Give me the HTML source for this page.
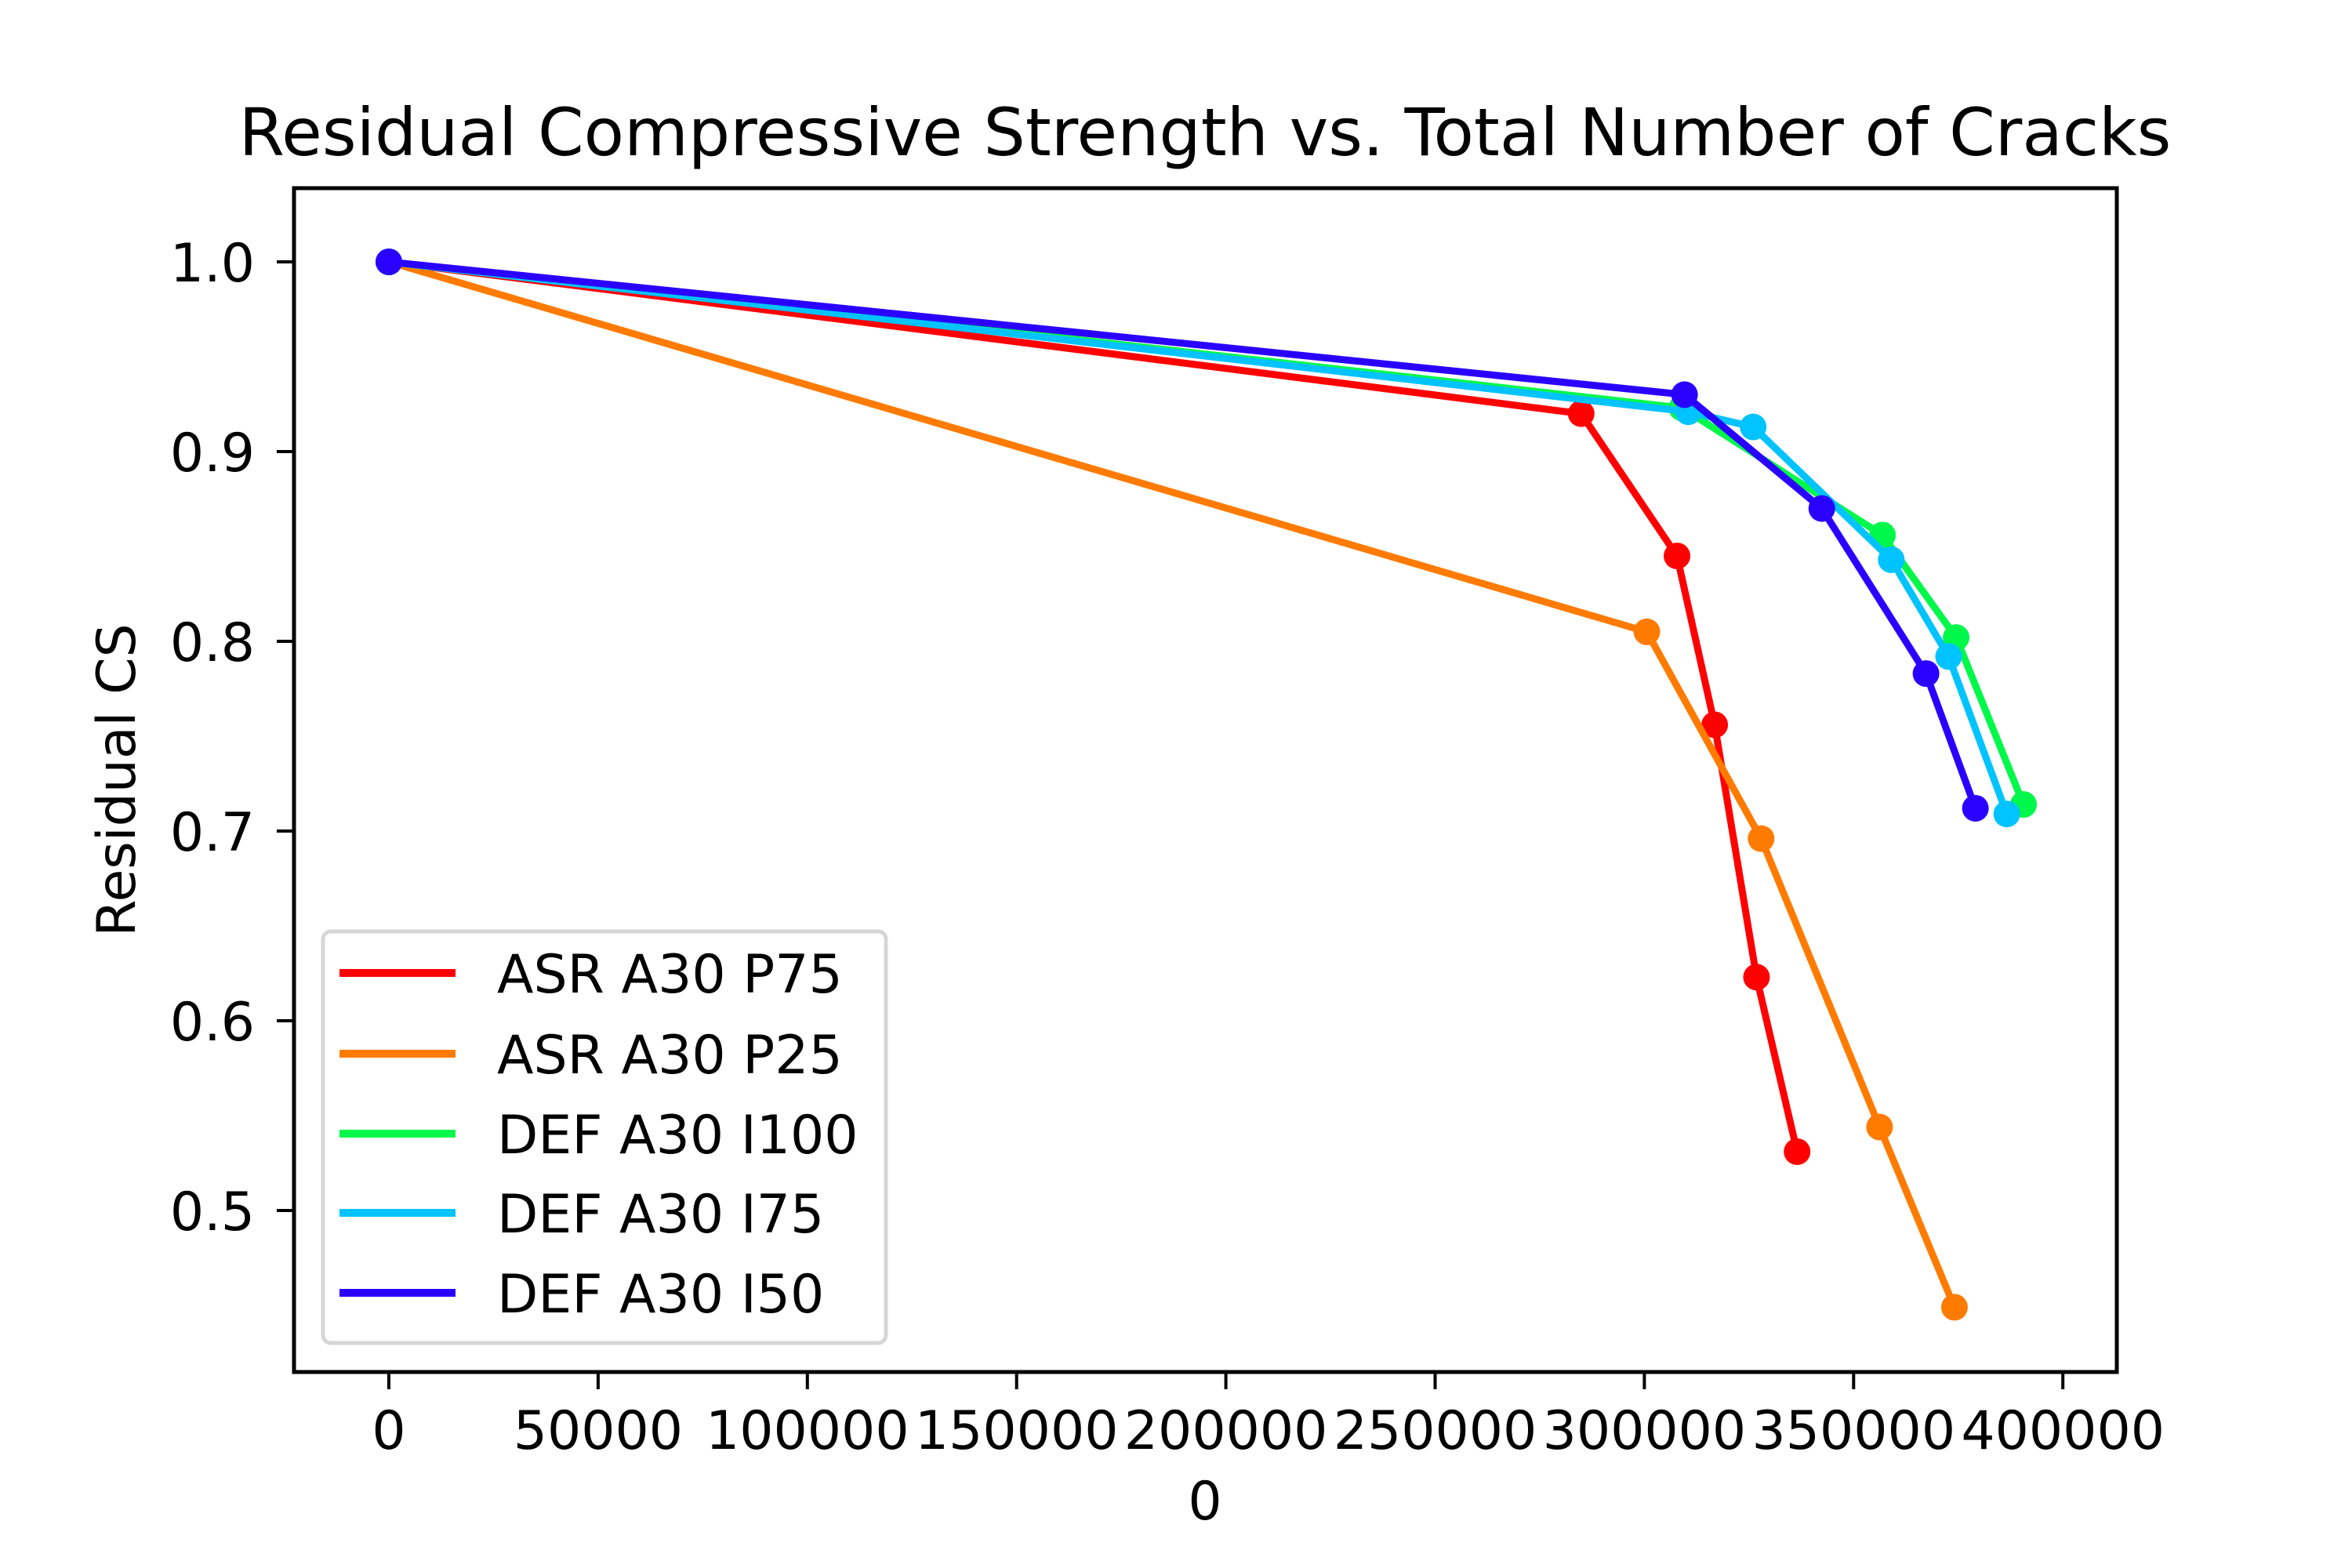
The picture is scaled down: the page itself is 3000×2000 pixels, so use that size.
<!DOCTYPE html>
<html><head><meta charset="utf-8"><style>
html,body{margin:0;padding:0;background:#fff;}
svg{display:block;font-family:"DejaVu Sans","Liberation Sans",sans-serif;}
</style></head><body>
<svg id="chart" width="3000" height="2000" viewBox="0 0 3000 2000" xmlns="http://www.w3.org/2000/svg">
<rect width="3000" height="2000" fill="#fff"/>
<text x="1537" y="198" font-size="84" text-anchor="middle">Residual Compressive Strength vs. Total Number of Cracks</text>
<g id="marks"></g>
<g id="axes"></g>
<text x="1537" y="1938" font-size="68" text-anchor="middle">0</text>
<text transform="translate(172,995) rotate(-90)" font-size="68" text-anchor="middle">Residual CS</text>
<g id="legend"></g>
</svg>
<script>
const seriesNames = ["ASR A30 P75","ASR A30 P25","DEF A30 I100","DEF A30 I75","DEF A30 I50"];
const seriesColors = ["#ff0000","#ff7b00","#00f84a","#00c3ff","#2a00ff"];
const xP75 = [0,284900,307800,316800,326800,336500];
const yP75 = [1.0,0.920,0.845,0.756,0.623,0.531];
const xP25 = [0,300600,327900,356200,374100];
const yP25 = [1.0,0.805,0.696,0.544,0.449];
const xI100 = [0,309000,356900,374500,390600];
const yI100 = [1.0,0.923,0.856,0.802,0.714];
const xI75 = [0,310500,326000,359000,372700,386600];
const yI75 = [1.0,0.921,0.913,0.843,0.792,0.709];
const xI50 = [0,309600,342400,367300,379100];
const yI50 = [1.0,0.930,0.870,0.783,0.712];
const xTicks = [0,50000,100000,150000,200000,250000,300000,350000,400000];
const yTicks = [0.5,0.6,0.7,0.8,0.9,1.0];
const yTickLabels = ["0.5","0.6","0.7","0.8","0.9","1.0"];

const L=375,R=2700,T=240,B=1750;
const X0=496, XPER=266.9/50000;
const Y1=334, YPER=2420;
function sx(v){return X0+v*XPER;}
function sy(v){return Y1+(1-v)*YPER;}
const NS="http://www.w3.org/2000/svg";
function mk(tag,attrs,parent){const e=document.createElementNS(NS,tag);for(const k in attrs)e.setAttribute(k,attrs[k]);parent.appendChild(e);return e;}

const marks=document.getElementById('marks');
const xs=[xP75,xP25,xI100,xI75,xI50], ys=[yP75,yP25,yI100,yI75,yI50];
const keys=["asr-p75","asr-p25","def-i100","def-i75","def-i50"];
for(let s=0;s<5;s++){
  const g=mk('g',{},marks);
  
  
  const pts=xs[s].map((v,i)=>sx(v)+','+sy(ys[s][i])).join(' ');
  const pl=mk('polyline',{points:pts,fill:'none',stroke:seriesColors[s],'stroke-width':9,'stroke-linejoin':'round'},g);
  
  
  xs[s].forEach((v,i)=>{
    const c=mk('circle',{cx:sx(v),cy:sy(ys[s][i]),r:17,fill:seriesColors[s]},g);
    
    
  });
}

const axes=document.getElementById('axes');
const frame=mk('rect',{x:L,y:T,width:R-L,height:B-T,fill:'none',stroke:'#000','stroke-width':5},axes);


xTicks.forEach(v=>{
  const x=sx(v);
  const t=mk('line',{x1:x,y1:B,x2:x,y2:B+22,stroke:'#000','stroke-width':4},axes);
  
  
  const lb=mk('text',{x:x,y:1848,'font-size':68,'text-anchor':'middle'},axes);
  lb.textContent=String(v);
  
  
});
yTicks.forEach((v,i)=>{
  const y=sy(v);
  const t=mk('line',{x1:L,y1:y,x2:L-22,y2:y,stroke:'#000','stroke-width':4},axes);
  
  
  const lb=mk('text',{x:325,y:y+25,'font-size':68,'text-anchor':'end'},axes);
  lb.textContent=yTickLabels[i];
  
  
});

const legend=document.getElementById('legend');
const box=mk('rect',{x:412,y:1188,width:718,height:525,rx:10,fill:'#fff',stroke:'#d6d6d6','stroke-width':5},legend);


const legY=[1241,1344,1446,1547,1649];
for(let s=0;s<5;s++){
  const g=mk('g',{},legend);
  
  
  const ln=mk('line',{x1:433,y1:legY[s],x2:581,y2:legY[s],stroke:seriesColors[s],'stroke-width':10},g);
  
  
  const tx=mk('text',{x:634,y:legY[s]+25,'font-size':68},g);
  tx.textContent=seriesNames[s];
  
  
}
</script>
</body></html>
